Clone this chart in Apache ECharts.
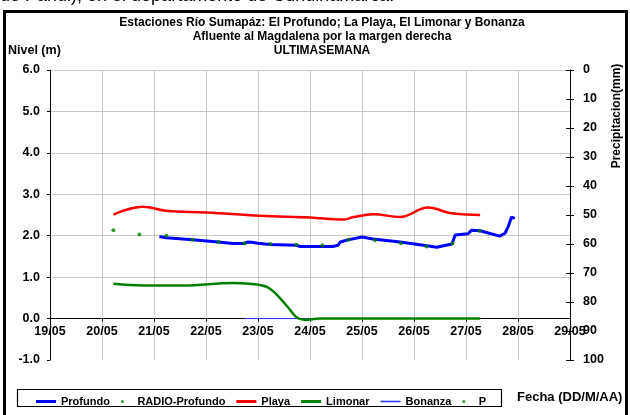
<!DOCTYPE html>
<html><head><meta charset="utf-8">
<script src="https://cdn.jsdelivr.net/npm/echarts@6/dist/echarts.min.js"></script>
<style>html,body{margin:0;padding:0;background:#fff}#c{width:630px;height:415px}</style>
</head><body><div id="c"></div>
<script>
const FONT = 'Liberation Sans, Arial, sans-serif';
const titleLines = ['Estaciones Río Sumapáz: El Profundo; La Playa, El Limonar y Bonanza','Afluente al Magdalena por la margen derecha','ULTIMASEMANA'];
const levelTicks = [-1, 0, 1, 2, 3, 4, 5, 6];
const precipTicks = [0, 10, 20, 30, 40, 50, 60, 70, 80, 90, 100];

const profundoTimes = ['2010-05-21 02:30','2010-05-21 05:45','2010-05-21 17:45','2010-05-22 05:30','2010-05-22 12:30','2010-05-22 17:30','2010-05-22 19:15','2010-05-22 21:00','2010-05-23 00:00','2010-05-23 05:30','2010-05-23 17:45','2010-05-23 19:30','2010-05-24 10:30','2010-05-24 13:00','2010-05-24 14:00','2010-05-24 17:30','2010-05-25 00:00','2010-05-25 05:00','2010-05-25 17:30','2010-05-26 06:00','2010-05-26 10:30','2010-05-26 17:30','2010-05-26 19:00','2010-05-27 01:00','2010-05-27 02:30','2010-05-27 06:30','2010-05-27 15:30','2010-05-27 18:00','2010-05-27 19:30','2010-05-27 21:00','2010-05-27 22:30'];
const profundoValues = [1.98,1.95,1.90,1.85,1.81,1.81,1.85,1.84,1.82,1.79,1.77,1.74,1.74,1.77,1.85,1.90,1.97,1.92,1.85,1.76,1.72,1.80,2.02,2.05,2.13,2.12,1.99,2.06,2.22,2.45,2.42];

const radioTimes = ['2010-05-20 05:15','2010-05-20 17:15','2010-05-21 05:45','2010-05-21 17:45','2010-05-22 05:45','2010-05-22 17:45','2010-05-23 05:45','2010-05-23 17:45','2010-05-24 05:45','2010-05-24 17:45','2010-05-25 06:00','2010-05-25 18:00','2010-05-26 05:45','2010-05-26 17:45','2010-05-27 06:15'];
const radioValues = [2.13,2.03,2.00,1.90,1.85,1.82,1.80,1.78,1.77,1.90,1.89,1.82,1.74,1.82,2.12];

const playaTimes = ['2010-05-20 05:15','2010-05-20 19:00','2010-05-21 05:45','2010-05-22 00:15','2010-05-23 01:00','2010-05-24 00:00','2010-05-24 15:15','2010-05-24 20:00','2010-05-25 05:15','2010-05-25 17:30','2010-05-26 06:30','2010-05-26 16:30','2010-05-27 00:15','2010-05-27 06:30'];
const playaValues = [2.51,2.70,2.60,2.56,2.48,2.44,2.39,2.45,2.52,2.45,2.68,2.55,2.51,2.50];

const limonarTimes = ['2010-05-20 05:15','2010-05-20 19:00','2010-05-21 13:30','2010-05-22 12:45','2010-05-22 23:30','2010-05-23 05:30','2010-05-23 13:15','2010-05-23 17:45','2010-05-23 21:30','2010-05-24 04:30','2010-05-25 12:00','2010-05-27 06:30'];
const limonarValues = [0.84,0.80,0.80,0.86,0.82,0.72,0.31,0.03,-0.03,0.0,0.0,0.0];

const bonanzaTimes = ['2010-05-22 18:00','2010-05-24 04:30'];
const bonanzaValues = [0, 0];

const pTimes = [];
const pValues = [];

const zip = (t, v) => t.map((x, i) => [x, v[i]]);
const pad = n => (n < 10 ? '0' : '') + n;
const DAY = 86400000;

const chart = echarts.init(document.getElementById('c'), null, {renderer: 'canvas'});
const lbl = {color: '#000', fontFamily: FONT, fontWeight: 'bold', fontSize: 12.5};
const precipAxisBase = {
  type: 'value', min: precipTicks[0], max: precipTicks[precipTicks.length - 1], interval: 10, inverse: true,
  position: 'right', splitLine: {show: false}
};

chart.setOption({
  animation: false,
  backgroundColor: '#fff',
  grid: {left: 50, right: 60, top: 70, bottom: 55, containLabel: false},
  xAxis: {
    type: 'time', position: 'bottom', offset: 0,
    min: '2010-05-19 00:00', max: '2010-05-29 00:00',
    minInterval: DAY, maxInterval: DAY, splitNumber: 10,
    axisLine: {onZero: false, lineStyle: {color: '#000', width: 1}},
    axisTick: {show: true, length: 3, lineStyle: {color: '#000'}},
    axisLabel: Object.assign({}, lbl, {margin: 6, showMinLabel: true, showMaxLabel: true, hideOverlap: false,
      formatter: v => { const d = new Date(v); return pad(d.getDate()) + '/' + pad(d.getMonth() + 1); }}),
    splitLine: {show: true, lineStyle: {color: '#c8c8c8', width: 1}}
  },
  yAxis: [{
    type: 'value', min: levelTicks[0], max: levelTicks[levelTicks.length - 1], interval: 1,
    axisLine: {show: true, onZero: false, lineStyle: {color: '#000'}},
    axisTick: {show: true, length: 3, lineStyle: {color: '#000'}},
    axisLabel: Object.assign({}, lbl, {margin: 10, formatter: v => v.toFixed(1)}),
    splitLine: {show: true, showMinLine: false, lineStyle: {color: '#c8c8c8', width: 1}}
  }, Object.assign({}, precipAxisBase, {
    axisLine: {show: true, onZero: false, lineStyle: {color: '#000'}},
    axisTick: {show: true, length: 4, lineStyle: {color: '#000'}},
    axisLabel: Object.assign({}, lbl, {margin: 13})
  }), Object.assign({}, precipAxisBase, {
    axisLine: {show: false, onZero: false},
    axisTick: {show: true, inside: true, length: 4, lineStyle: {color: '#000'}},
    axisLabel: {show: false}
  })],
  legend: {
    left: 31, top: 391, itemWidth: 20, itemHeight: 3, itemGap: 11,
    textStyle: {color: '#000', fontFamily: FONT, fontWeight: 'bold', fontSize: 11},
    data: [
      {name: 'Profundo', icon: 'rect'},
      {name: 'RADIO-Profundo', icon: 'circle'},
      {name: 'Playa', icon: 'rect'},
      {name: 'Limonar', icon: 'rect'},
      {name: 'Bonanza', icon: 'path://M0,0L20,0L20,1.6L0,1.6Z'},
      {name: 'P', icon: 'circle'}
    ]
  },
  series: [
    {name: 'Profundo', type: 'line', data: zip(profundoTimes, profundoValues), showSymbol: false, symbol: 'none',
      lineStyle: {color: '#0000ff', width: 3}, itemStyle: {color: '#0000ff'}, z: 3},
    {name: 'RADIO-Profundo', type: 'scatter', data: zip(radioTimes, radioValues), symbol: 'circle', symbolSize: 4,
      itemStyle: {color: '#008000'}, z: 5},
    {name: 'Playa', type: 'line', data: zip(playaTimes, playaValues), showSymbol: false, symbol: 'none', smooth: 0.4,
      lineStyle: {color: '#ff0000', width: 2.5}, itemStyle: {color: '#ff0000'}, z: 3},
    {name: 'Limonar', type: 'line', data: zip(limonarTimes, limonarValues), showSymbol: false, symbol: 'none', smooth: 0.4,
      lineStyle: {color: '#008000', width: 2.5}, itemStyle: {color: '#008000'}, z: 3},
    {name: 'Bonanza', type: 'line', data: zip(bonanzaTimes, bonanzaValues), showSymbol: false, symbol: 'none',
      lineStyle: {color: '#3333ff', width: 1}, itemStyle: {color: '#3333ff'}, z: 2},
    {name: 'P', type: 'scatter', yAxisIndex: 1, data: zip(pTimes, pValues), symbolSize: 3, itemStyle: {color: '#008000'}}
  ],
  graphic: [
    {type: 'text', left: 0, top: -13, style: {text: 'de Pandi), en el departamento de Cundinamarca.', font: '18px ' + FONT, fill: '#000'}},
    {type: 'rect', shape: {x: 4.5, y: 11.5, width: 622, height: 410}, style: {fill: 'none', stroke: '#000', lineWidth: 3}, silent: true},
    {type: 'text', x: 322, y: 23, style: {text: titleLines[0], font: 'bold 12px ' + FONT, fill: '#000', align: 'center', verticalAlign: 'middle'}},
    {type: 'text', x: 322, y: 37, style: {text: titleLines[1], font: 'bold 12px ' + FONT, fill: '#000', align: 'center', verticalAlign: 'middle'}},
    {type: 'text', x: 322, y: 51, style: {text: titleLines[2], font: 'bold 12px ' + FONT, fill: '#000', align: 'center', verticalAlign: 'middle'}},
    {type: 'text', x: 8, y: 51, style: {text: 'Nivel (m)', font: 'bold 12.5px ' + FONT, fill: '#000', align: 'left', verticalAlign: 'middle'}},
    {type: 'text', x: 617, y: 116, rotation: Math.PI / 2, style: {text: 'Precipitacion(mm)', font: 'bold 12px ' + FONT, fill: '#000', align: 'center', verticalAlign: 'middle'}},
    {type: 'rect', shape: {x: 17.5, y: 389.5, width: 484, height: 17}, style: {fill: 'none', stroke: '#000', lineWidth: 1.2}, silent: true, z: -1},
    {type: 'text', x: 517, y: 397, style: {text: 'Fecha (DD/M/AA)', font: 'bold 13px ' + FONT, fill: '#000', align: 'left', verticalAlign: 'middle'}}
  ]
});
// Put the time axis on the zero level of the left axis (as in the reference)
const yZero = chart.convertToPixel({yAxisIndex: 0}, 0);
const yBottom = chart.convertToPixel({yAxisIndex: 0}, levelTicks[0]);
chart.setOption({xAxis: {offset: -(yBottom - yZero)}});
</script></body></html>
